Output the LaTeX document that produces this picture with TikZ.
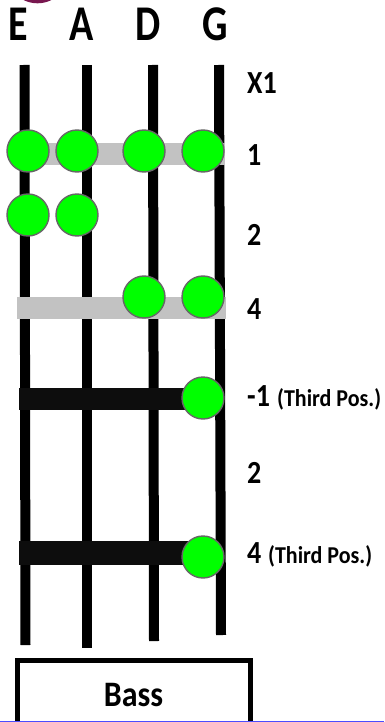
\documentclass[tikz,border=0pt]{standalone}
\usepackage{fontspec}
\setmainfont{Carlito}
\definecolor{maroon}{rgb}{0.47,0.09,0.31}
\tikzset{
  stringline/.style={line width=10pt,black},
  graybar/.style={fill=black!24,draw=none},
  blackbar/.style={fill=black!95,draw=none},
  fingerdot/.style={circle,fill=green,draw=black!60,line width=1.4pt,minimum size=42pt,inner sep=0pt},
  headlabel/.style={font=\fontsize{40}{40}\selectfont\bfseries,anchor=base,inner sep=0pt,yscale=1.25,transform shape},
  fretlabel/.style={font=\fontsize{28}{28}\selectfont\bfseries,anchor=base west,inner sep=0pt,yscale=1.15,transform shape},
  poslabel/.style={font=\fontsize{22}{22}\selectfont\bfseries,anchor=base west,inner sep=0pt,yscale=1.1,transform shape},
  basslabel/.style={font=\fontsize{32}{32}\selectfont\bfseries,anchor=base,inner sep=0pt,yscale=1.12,transform shape},
}
\begin{document}
\begin{tikzpicture}[x=1pt,y=-1pt]
\useasboundingbox (0,0) rectangle (384,722);
\fill[white] (0,0) rectangle (384,722);
\begin{scope}
\clip (0,0) rectangle (384,722);
\fill[maroon] (37.5,-28) circle (31.3);
\end{scope}
% headings
\node[headlabel] (hE) at (18,41) {E};
\node[headlabel] (hA) at (82,41) {A};
\node[headlabel] (hD) at (148,41) {D};
\node[headlabel] (hG) at (215.5,41) {G};
% strings
\coordinate (sEt) at (24.5,65); \coordinate (sEb) at (25.5,645);
\coordinate (sAt) at (87,65);   \coordinate (sAb) at (87,648);
\coordinate (sDt) at (153,65);  \coordinate (sDb) at (154,641);
\coordinate (sGt) at (219,65);  \coordinate (sGb) at (221,635);
\draw[stringline] (sEt) -- (sEb);
\draw[stringline] (sAt) -- (sAb);
\draw[stringline] (sDt) -- (sDb);
\draw[stringline] (sGt) -- (sGb);
% bars
\fill[graybar] (28,143) rectangle (225,165);
\fill[graybar] (17,297) rectangle (226,319);
\fill[blackbar] (19,388) rectangle (200,410);
\fill[blackbar] (19,541) rectangle (200,565);
% dots
\node[fingerdot] (a1) at (28,151) {};
\node[fingerdot] (a2) at (77,151) {};
\node[fingerdot] (a3) at (144,151) {};
\node[fingerdot] (a4) at (203,151) {};
\node[fingerdot] (b1) at (28,215) {};
\node[fingerdot] (b2) at (77,215) {};
\node[fingerdot] (c3) at (144,297) {};
\node[fingerdot] (c4) at (203,297) {};
\node[fingerdot] (d4) at (203,398) {};
\node[fingerdot] (e4) at (203,557) {};
% fret labels
\node[fretlabel] (x1) at (247,94) {X1};
\node[fretlabel] (f1) at (247,166) {1};
\node[fretlabel] (f2) at (247,245) {2};
\node[fretlabel] (f4) at (247,319) {4};
\node[fretlabel] (fm) at (247,406) {-1};
\node[poslabel] (pm) at (277,406) {(Third Pos.)};
\node[fretlabel] (f2b) at (247,483) {2};
\node[fretlabel] (f4b) at (247,563) {4};
\node[poslabel] (p4) at (268,563) {(Third Pos.)};
% bass box
\draw[black,line width=5pt] (17.5,722.5) -- (17.5,660.5) -- (250,660.5) -- (250,722.5);
\node[basslabel] (bass) at (133.5,706) {Bass};
\draw[blue!70!white,line width=1pt] (0,721.6) -- (384,721.6);
\end{tikzpicture}
\end{document}
